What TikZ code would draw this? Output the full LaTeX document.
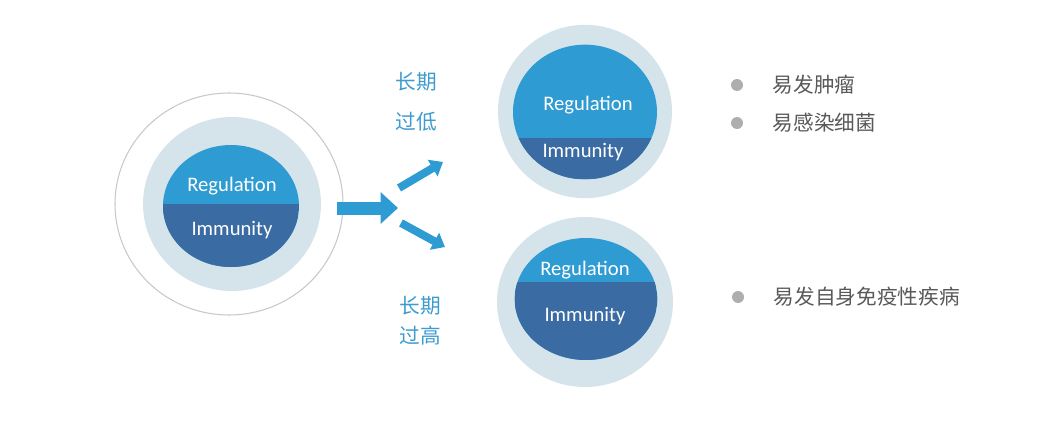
\documentclass[tikz,border=0pt]{standalone}
\usepackage{fontspec}
\usepackage{tikz}
\usetikzlibrary{shapes.geometric, arrows.meta, positioning}
\newfontfamily\lbfont{Carlito}
\newfontfamily\cjk{Noto Sans CJK SC}
\definecolor{reg-blue}{HTML}{2E9BD2}
\definecolor{imm-blue}{HTML}{3A6CA3}
\definecolor{ring-blue}{HTML}{D5E3EB}
\definecolor{halo-gray}{HTML}{C8C8C8}
\definecolor{label-blue}{HTML}{3D9BD0}
\definecolor{item-gray}{HTML}{595959}
\definecolor{dot-gray}{HTML}{AEAEAE}

\begin{document}
\begin{tikzpicture}[
    x=0.75pt, y=-0.75pt,
    halo/.style={ellipse, draw=halo-gray, line width=0.8pt, inner sep=0pt, outer sep=0pt},
    ring/.style={ellipse, fill=ring-blue, inner sep=0pt, outer sep=0pt},
    core/.style={ellipse, fill=reg-blue, inner sep=0pt, outer sep=0pt,
        path picture={\fill[imm-blue] ([yshift=#1]path picture bounding box.west) rectangle (path picture bounding box.south east);}},
    lbl/.style={font=\lbfont\fontsize{15.5}{18}\selectfont, text=white},
    phase/.style={font=\cjk\fontsize{15.5}{#1}\selectfont, text=label-blue, align=center},
    dot/.style={circle, fill=dot-gray, minimum size=9pt, inner sep=0pt},
    item/.style={font=\cjk\fontsize{15.5}{18}\selectfont, text=item-gray, inner sep=0pt},
    bigarrow/.style={-{Triangle[width=23pt, length=13pt]}, line width=9.75pt, reg-blue},
    forkarrow/.style={-{Triangle[width=14pt, length=9pt]}, line width=6pt, reg-blue}
]
    \useasboundingbox (0,0) rectangle (1054,421);

    % normal balance
    \node (halo0) [halo, minimum width=171pt, minimum height=166.5pt] at (229,204) {};
    \node (ring0) [ring, minimum width=133.5pt, minimum height=130.5pt] at (232,204) {};
    \node (core0) [core=1.5pt, minimum width=102pt, minimum height=91.5pt] at (231,206) {};
    \node (reg0) [lbl] at (232,186) {Regulation};
    \node (imm0) [lbl] at (232,230) {Immunity};

    % too low
    \node (ring1) [ring, minimum width=130.5pt, minimum height=130pt] at (585,111.5) {};
    \node (core1) [core=-19.5pt, minimum width=108pt, minimum height=101pt] at (585,112) {};
    \node (reg1) [lbl] at (588,105) {Regulation};
    \node (imm1) [lbl] at (583,152) {Immunity};

    % too high
    \node (ring2) [ring, minimum width=132pt, minimum height=127.5pt] at (585,302) {};
    \node (core2) [core=12.75pt, minimum width=107pt, minimum height=91.5pt] at (586,299) {};
    \node (reg2) [lbl] at (585,270) {Regulation};
    \node (imm2) [lbl] at (585,316) {Immunity};

    % arrows
    \coordinate (fork) at (398,208);
    \coordinate (forkS) at (halo0.east |- fork);
    \coordinate (upS) at (399,188);
    \coordinate (upE) at (443,162);
    \coordinate (dnS) at (401,223);
    \coordinate (dnE) at (445,247);
    \draw [bigarrow] ([xshift=-4.5pt]forkS) -- (fork);
    \draw [forkarrow] (upS) -- (upE);
    \draw [forkarrow] (dnS) -- (dnE);

    \node (low) [phase=30pt] at (416,102) {长期\\过低};
    \node (high) [phase=22.5pt] at (420,321) {长期\\过高};

    % outcomes
    \node (b1) [dot] at (737,85) {};
    \node (t1) [item, right=22pt of b1] {易发肿瘤};
    \node (b2) [dot] at (737,123) {};
    \node (t2) [item, right=22pt of b2] {易感染细菌};
    \node (b3) [dot] at (738,297) {};
    \node (t3) [item, right=22pt of b3] {易发自身免疫性疾病};
\end{tikzpicture}
\end{document}
